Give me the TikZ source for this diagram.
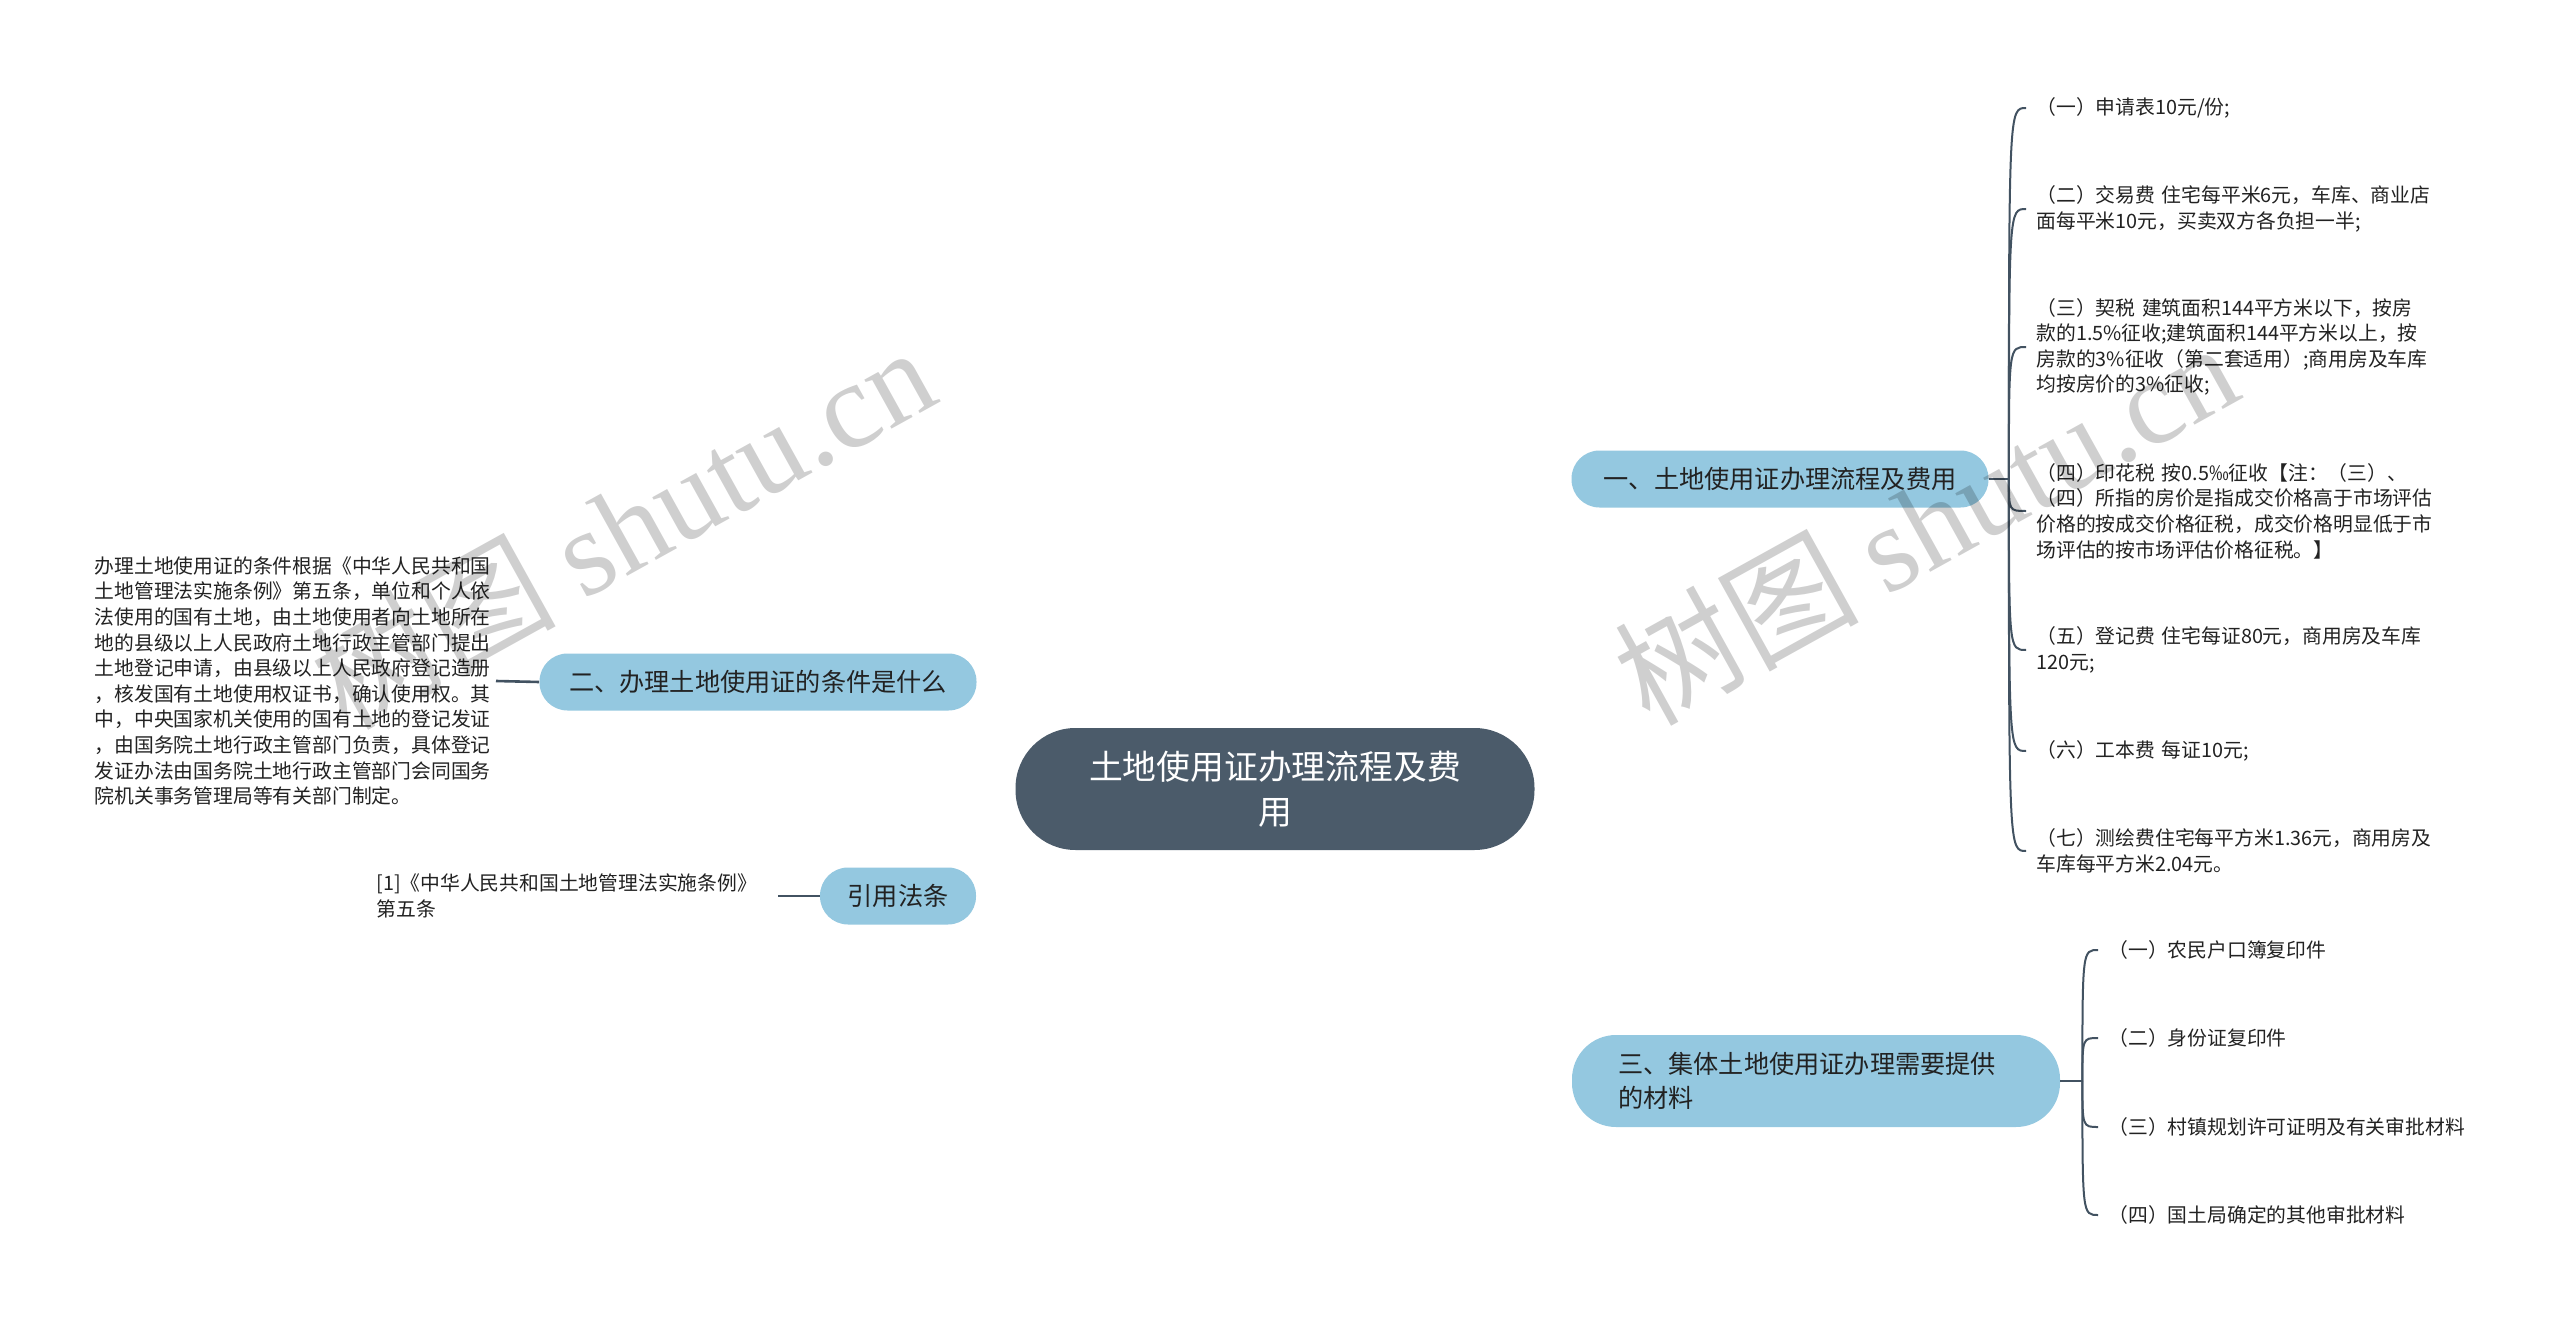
\documentclass[tikz,border=0pt]{standalone}
\usepackage{fontspec}
\setmainfont{Noto Sans CJK SC}
\newfontfamily\wmlatin{Liberation Serif}
\usetikzlibrary{backgrounds}

\definecolor{linec}{RGB}{66,82,97}
\definecolor{rootc}{RGB}{75,91,106}
\definecolor{topicc}{RGB}{148,200,224}
\definecolor{textc}{RGB}{34,34,34}

\begin{document}
\begin{tikzpicture}[x=0.5pt, y=-0.5pt,
  root/.style={fill=rootc, text=white, rounded corners=30pt, minimum width=259.5pt,
    minimum height=61pt, align=center, font=\fontsize{16.9}{22.5}\selectfont},
  topic/.style={fill=topicc, text=textc, rounded corners=14pt, minimum height=28.5pt,
    font=\fontsize{12.6}{17}\selectfont},
  leaf/.style={text=textc, inner xsep=5pt, inner ysep=0pt, text width=210pt,
    align=left, font=\fontsize{9.9}{12.8}\selectfont},
  link/.style={draw=linec, line width=1.3pt},
  sublink/.style={draw=linec, line width=1pt},
  wmark/.style={text=black, text opacity=0.19, font=\fontsize{61}{61}\selectfont}]

  \fill[white] (0,0) rectangle (2560,1321);
  \useasboundingbox (0,0) rectangle (2560,1321);

  % 中心
  \node[root] (root) at (1275,789) {土地使用证办理流程及费\\用};

  % 分支
  \node[topic, minimum width=208.5pt] (t1) at (1780,479) {一、土地使用证办理流程及费用};
  \node[topic, minimum width=218.5pt] (t2) at (758,682) {二、办理土地使用证的条件是什么};
  \node[topic, minimum width=78pt] (t4) at (898,896) {引用法条};
  \node[topic, rounded corners=22pt, minimum height=46pt, text width=198pt,
    inner xsep=23pt, align=left] (t3) at (1816,1081) {三、集体土地使用证办理需要提供\\的材料};

  % 费用
  \node[leaf, anchor=west] (f1) at (2026,108) {（一）申请表10元/份;};
  \node[leaf, anchor=west] (f2) at (2026,209) {（二）交易费 住宅每平米6元，车库、商业店\\面每平米10元，买卖双方各负担一半;};
  \node[leaf, anchor=west] (f3) at (2026,347) {（三）契税 建筑面积144平方米以下，按房\\款的1.5\%征收;建筑面积144平方米以上，按\\房款的3\%征收（第二套适用）;商用房及车库\\均按房价的3\%征收;};
  \node[leaf, anchor=west] (f4) at (2026,511) {（四）印花税 按0.5‰征收【注：（三）、\\（四）所指的房价是指成交价格高于市场评估\\价格的按成交价格征税，成交价格明显低于市\\场评估的按市场评估价格征税。】};
  \node[leaf, anchor=west] (f5) at (2026,650) {（五）登记费 住宅每证80元，商用房及车库\\120元;};
  \node[leaf, anchor=west] (f6) at (2026,751) {（六）工本费 每证10元;};
  \node[leaf, anchor=west] (f7) at (2026,851) {（七）测绘费住宅每平方米1.36元，商用房及\\车库每平方米2.04元。};

  % 材料
  \node[leaf, anchor=west] (m1) at (2098,950) {（一）农民户口簿复印件};
  \node[leaf, anchor=west] (m2) at (2098,1038) {（二）身份证复印件};
  \node[leaf, anchor=west] (m3) at (2098,1127) {（三）村镇规划许可证明及有关审批材料};
  \node[leaf, anchor=west] (m4) at (2098,1215) {（四）国土局确定的其他审批材料};

  % 条件・法条
  \node[leaf, anchor=east, inner xsep=3pt, text width=197.5pt] (g1) at (496,681) {办理土地使用证的条件根据《中华人民共和国\\土地管理法实施条例》第五条，单位和个人依\\法使用的国有土地，由土地使用者向土地所在\\地的县级以上人民政府土地行政主管部门提出\\土地登记申请，由县级以上人民政府登记造册\\，核发国有土地使用权证书，确认使用权。其\\中，中央国家机关使用的国有土地的登记发证\\，由国务院土地行政主管部门负责，具体登记\\发证办法由国务院土地行政主管部门会同国务\\院机关事务管理局等有关部门制定。};
  \node[leaf, anchor=west, inner xsep=3pt, text width=197.5pt] (g2) at (370,896) {[1]《中华人民共和国土地管理法实施条例》\\第五条};

  \coordinate (j1) at ([xshift=10pt]t1.east);
  \coordinate (j3) at ([xshift=11pt]t3.east);

  % 连线
  \begin{scope}[on background layer]
    \draw[link] (root.center) .. controls +(5,-270) and +(-240,0) .. (t1.west);
    \draw[link] (root.center) .. controls +(5,270) and +(-240,0) .. (t3.west);
    \draw[link] (t2.east) .. controls +(154,0) and +(-45,-79) .. (root.center);
    \draw[link] (t4.east) .. controls +(154,0) and +(-45,79) .. (root.center);
  \end{scope}
  \draw[link] (t2.west) -- (g1.east);
  \draw[link] (t4.west) -- (g2.east);
  \draw[link] (t1.east) -- (j1);
  \draw[link] (t3.east) -- (j3);
  \foreach \n in {f1,f2,f3,f4,f5,f6,f7}
    \draw[sublink] (j1) .. controls (j1 |- \n.west) .. (\n.west);
  \foreach \n in {m1,m2,m3,m4}
    \draw[sublink] (j3) .. controls (j3 |- \n.west) .. (\n.west);

  % 水印
  \node[wmark, rotate=29] (w1) at (622,526) {树图 {\wmlatin shutu.cn}};
  \node[wmark, rotate=29] (w2) at (1925,522) {树图 {\wmlatin shutu.cn}};
\end{tikzpicture}
\end{document}
